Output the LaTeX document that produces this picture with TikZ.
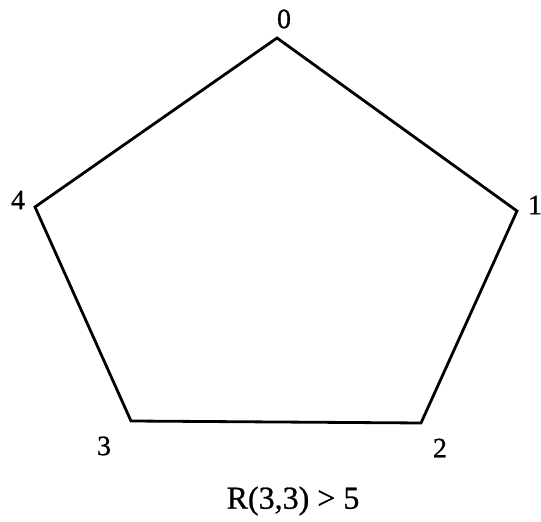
\documentclass[tikz,border=0pt]{standalone}
\usepackage{fontspec}
\setmainfont{Liberation Serif}[FakeBold=0.8]
\begin{document}
\begin{tikzpicture}[x=0.5pt, y=-0.5pt,
    edge/.style={draw=black, line width=1.4pt, line join=miter},
    lbl/.style={font=\fontsize{14}{16}\selectfont, inner sep=0pt},
    captxt/.style={font=\fontsize{16}{18}\selectfont, inner sep=0pt},
    every node/.style={lbl}]
  % Marco (541x522)
  \useasboundingbox (0,0) rectangle (541,522);
  % Vertices del pentagono
  \coordinate (v0) at (277,38);
  \coordinate (v1) at (517,211);
  \coordinate (v2) at (421,423);
  \coordinate (v3) at (131,421);
  \coordinate (v4) at (35,207);
  % Lados
  \draw[edge] (v0) -- (v1) -- (v2) -- (v3) -- (v4) -- cycle;
  % Etiquetas
  \foreach \n/\x/\y in {0/284/19, 1/535/205, 2/440/448, 3/104/446, 4/18/200} {
    \node (l\n) at (\x,\y) {\n};
  }
  \node[captxt] (rms) at (293,501) {R(3,3) > 5};
\end{tikzpicture}
\end{document}
